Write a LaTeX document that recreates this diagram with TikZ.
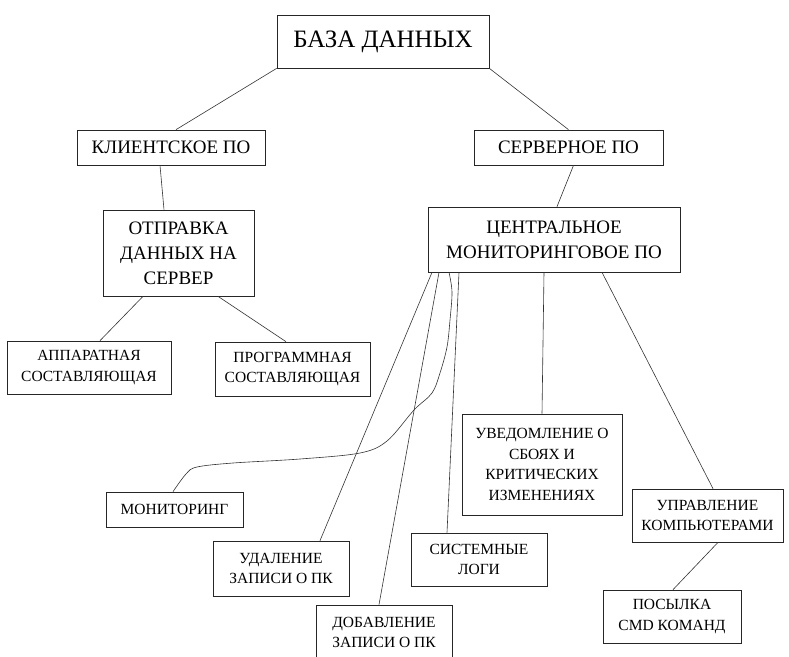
\documentclass[tikz,border=0pt]{standalone}
\usepackage{fontspec}
\setmainfont{Liberation Serif}
\usetikzlibrary{positioning,calc}

\tikzset{
  box/.style={draw=black!85, line width=0.7pt, align=center, inner sep=0pt,
    font=\fontsize{15.5}{20.5}\selectfont},
  bigbox/.style={box, font=\fontsize{19}{25}\selectfont},
  link/.style={draw=black!80, line width=0.6pt},
}

\begin{document}
\begin{tikzpicture}[x=1pt, y=-1pt]
        \useasboundingbox (0,0) rectangle (789,656);
        % Top levels
        \node [bigbox, minimum width=212, minimum height=53, font=\fontsize{25}{30}\selectfont] (db) at (383,41.5) {БАЗА ДАННЫХ};
        \node [bigbox, minimum width=188, minimum height=35] (cli) at (171,147.5) {КЛИЕНТСКОЕ ПО};
        \node [bigbox, minimum width=189, minimum height=35] (srv) at (568.5,147.5) {СЕРВЕРНОЕ ПО};
        \node [bigbox, minimum width=151, minimum height=86] (send) at (178.5,253) {ОТПРАВКА\\ДАННЫХ НА\\СЕРВЕР};
        \node [bigbox, minimum width=252, minimum height=65] (cmon) at (554,239.5) {ЦЕНТРАЛЬНОЕ\\МОНИТОРИНГОВОЕ ПО};
        % Client parts
        \node [box, minimum width=164, minimum height=53] (hw) at (89,367.5) {АППАРАТНАЯ\\СОСТАВЛЯЮЩАЯ};
        \node [box, minimum width=155, minimum height=54] (sw) at (292.5,369) {ПРОГРАММНАЯ\\СОСТАВЛЯЮЩАЯ};
        % Server parts
        \node [box, minimum width=160, minimum height=101] (alert) at (542,464.5) {УВЕДОМЛЕНИЕ О\\СБОЯХ И\\КРИТИЧЕСКИХ\\ИЗМЕНЕНИЯХ};
        \node [box, minimum width=151, minimum height=53] (mgmt) at (707.5,515.5) {УПРАВЛЕНИЕ\\КОМПЬЮТЕРАМИ};
        \node [box, minimum width=137, minimum height=35] (mon) at (174.5,509.5) {МОНИТОРИНГ};
        \node [box, minimum width=136, minimum height=55] (del) at (281,568.5) {УДАЛЕНИЕ\\ЗАПИСИ О ПК};
        \node [box, minimum width=136, minimum height=53] (logs) at (479,559.5) {СИСТЕМНЫЕ\\ЛОГИ};
        \node [box, minimum width=136, minimum height=55] (add) at (384,632.5) {ДОБАВЛЕНИЕ\\ЗАПИСИ О ПК};
        \node [box, minimum width=138, minimum height=53] (cmd) at (672,616.5) {ПОСЫЛКА\\CMD КОМАНД};

        % Lines
        \draw [link] (db.south west) -- ([xshift=5pt]cli.north);
        \draw [link] (db.south east) -- (srv.north);
        \draw [link] ([xshift=-11pt]cli.south) -- ([xshift=-14.5pt]send.north);
        \draw [link] ([xshift=5pt]srv.south) -- ([xshift=3pt]cmon.north);
        \draw [link] ([xshift=-35.5pt]send.south) -- ([xshift=11pt]hw.north);
        \draw [link] ([xshift=39.5pt]send.south) -- ([xshift=-6.5pt]sw.north);
        \draw [link] ([xshift=-122pt]cmon.south) -- ([xshift=39pt]del.north);
        \draw [link] ([xshift=-115pt]cmon.south) -- ([xshift=-5pt]add.north);
        \draw [link] ([xshift=-95pt]cmon.south) -- ([xshift=-32pt]logs.north);
        \draw [link] ([xshift=-10pt]cmon.south) -- (alert.north);
        \draw [link] ([xshift=48pt]cmon.south) -- ([xshift=5.5pt]mgmt.north);
        \draw [link] ([xshift=10.5pt]mgmt.south) -- ([xshift=1pt]cmd.north);
        % Hand drawn curve
        \draw [link] plot [smooth, tension=0.55] coordinates {
            ([xshift=-105pt]cmon.south) (452,292) (450,320) (447,347) (440,373)
            (432,393) (414,410) (387,441) (360,453) (300,459) (233,463)
            (197,467) (186,474) ([xshift=-1.5pt]mon.north)};
\end{tikzpicture}
\end{document}
